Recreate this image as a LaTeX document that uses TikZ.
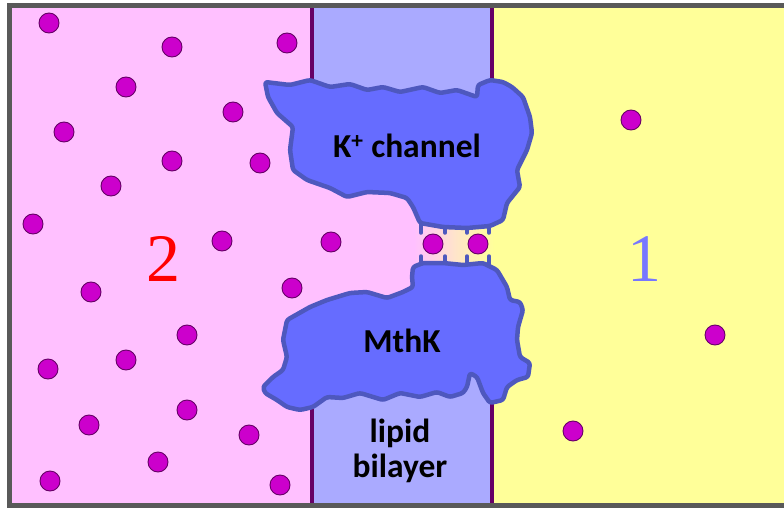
\documentclass[tikz,border=0pt]{standalone}
\usepackage{fontspec}
\setmainfont{Carlito}
\newfontfamily\numfont{Liberation Serif}
\usetikzlibrary{shadings}

\definecolor{sidetwo}{RGB}{255,192,255}
\definecolor{sideone}{RGB}{255,255,153}
\definecolor{bilayer}{RGB}{170,170,255}
\definecolor{edgeline}{RGB}{102,0,102}
\definecolor{framegray}{RGB}{89,89,89}
\definecolor{protein}{RGB}{102,108,255}
\definecolor{proteinedge}{RGB}{78,88,190}
\definecolor{ion}{RGB}{204,0,204}
\definecolor{ionedge}{RGB}{102,0,102}
\definecolor{onecolor}{RGB}{119,119,255}

\tikzset{
  ionball/.style={circle, fill=ion, draw=ionedge, line width=0.9pt, minimum size=20pt, inner sep=0pt},
  proteinblob/.style={fill=protein, draw=proteinedge, line width=4.5pt, line join=round, rounded corners=2.5pt},
  gatetick/.style={draw=proteinedge, line width=3.5pt, line cap=round},
  membraneline/.style={draw=edgeline, line width=4pt},
  boxlabel/.style={font=\fontsize{33.5}{35}\selectfont\bfseries, align=center, inner sep=0pt},
  sidelabel/.style={font=\numfont\fontsize{68}{70}\selectfont, inner sep=0pt}
}

\begin{document}
\begin{tikzpicture}[x=1pt, y=-1pt]
\useasboundingbox (0,0) rectangle (784,508);
\clip (0,0) rectangle (784,508);

% the two compartments and the membrane between them
\fill[sidetwo] (9.5,5.5) rectangle (311.5,505);
\fill[sideone] (491.5,5.5) rectangle (800,505);
\fill[bilayer] (311.5,5.5) rectangle (491.5,505);
\draw[membraneline] (311.5,5.5) -- (311.5,505);
\draw[membraneline] (491.5,5.5) -- (491.5,505);

% open channel interior and the pore
\fill[sidetwo] (309,150) rectangle (494,330);
\shade[left color=sidetwo, right color=sideone, middle color={rgb,255:red,255;green,228;blue,204}]
  (414,200) rectangle (494,290);

% gate residues lining the pore
\foreach \gx in {421,445,467,489} {
  \draw[gatetick] (\gx,218) -- (\gx,233);
  \draw[gatetick] (\gx,256) -- (\gx,270);
}

% upper half of the channel
\draw[proteinblob]
  (265,82) -- (290,85) -- (310,80) -- (330,87) -- (350,84) -- (367,90) -- (383,87)
  -- (400,92) -- (423,87) -- (440,93) -- (457,90) -- (477,97) -- (478,85)
  -- (490,80) -- (503,82) -- (512,87) -- (523,97) -- (530,117) -- (532,133)
  -- (527,150) -- (517,170) -- (520,187) -- (507,203) -- (503,220) -- (490,226)
  -- (467,228) -- (443,227) -- (420,223) -- (413,207) -- (407,198) -- (390,193)
  -- (367,192) -- (347,197) -- (330,188) -- (307,180) -- (293,170) -- (290,150)
  -- (293,127) -- (277,113) -- (268,97) -- cycle;

% lower half of the channel
\draw[proteinblob]
  (413,267) -- (423,263) -- (443,263) -- (463,265) -- (483,263) -- (497,270)
  -- (507,287) -- (510,300) -- (520,302) -- (523,310) -- (518,327) -- (517,340)
  -- (520,357) -- (530,363) -- (528,377) -- (517,380) -- (507,387) -- (503,400)
  -- (490,403) -- (483,393) -- (477,377) -- (470,373) -- (467,387) -- (463,393)
  -- (450,397) -- (437,392) -- (420,397) -- (400,393) -- (383,400) -- (360,393)
  -- (343,398) -- (327,397) -- (313,407) -- (300,410) -- (287,407) -- (277,400)
  -- (265,393) -- (263,387) -- (273,377) -- (283,370) -- (287,357) -- (283,340)
  -- (287,320) -- (310,307) -- (327,300) -- (350,293) -- (367,292) -- (387,298)
  -- (403,292) -- (413,287) -- (412,277) -- cycle;

% labels
\node[boxlabel] (kchan) at (407,146) {K\textsuperscript{+} channel};
\node[boxlabel] (mthk) at (402,341) {MthK};
\node[boxlabel] (lipid) at (400,451) {lipid\\bilayer};
\node[sidelabel, text=red] (sidetwolabel) at (163,259) {2};
\node[sidelabel, text=onecolor] (sideonelabel) at (644,259) {1};

% potassium ions
\foreach \ix/\iy [count=\k] in {
  49/23, 172/47, 287/43, 126/87, 233/112, 64/132, 172/161, 260/163, 111/186,
  33/224, 222/241, 331/242, 91/292, 292/288, 187/335, 126/360, 48/369,
  187/410, 89/425, 249/435, 158/462, 50/481, 280/485,
  433/244, 478/244,
  631/120, 715/335, 573/431}
  \node[ionball] (ion\k) at (\ix,\iy) {};

% outer frame
\draw[framegray, line width=5pt] (9.5,5.5) rectangle (800,505);
\end{tikzpicture}
\end{document}
